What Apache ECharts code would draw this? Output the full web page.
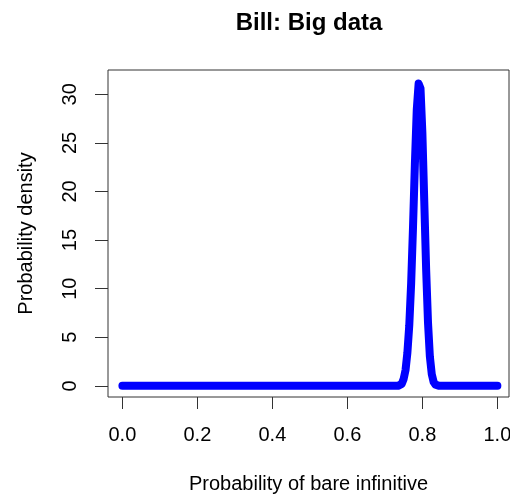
<!DOCTYPE html>
<html>
<head>
<meta charset="utf-8">
<script src="https://cdn.jsdelivr.net/npm/echarts@6/dist/echarts.min.js"></script>
<style>html,body{margin:0;padding:0;background:#fff;}#c{width:510px;height:494px;}</style>
</head>
<body>
<div id="c"></div>
<script>
const titleText = "Bill: Big data";
const xAxisName = "Probability of bare infinitive";
const yAxisName = "Probability density";
const xTicks = [0, 0.2, 0.4, 0.6, 0.8, 1.0];
const yTicks = [0, 5, 10, 15, 20, 25, 30];
const xValues = [0.00, 0.70, 0.735, 0.74, 0.745, 0.75, 0.755, 0.76, 0.765, 0.77, 0.775, 0.78, 0.785, 0.79, 0.7925, 0.795, 0.80, 0.805, 0.81, 0.815, 0.82, 0.825, 0.83, 0.835, 0.84, 0.845, 0.90, 1.00];
const densityValues = [0, 0, 0, 0.05, 0.2, 0.7, 1.6, 3.4, 6.2, 10.5, 16.3, 22.8, 28.4, 31.1, 31.2, 30.6, 26.0, 19.0, 12.0, 6.5, 3.0, 1.2, 0.4, 0.12, 0.03, 0, 0, 0];

const FONT = "'Liberation Sans', Arial, sans-serif";
const chart = echarts.init(document.getElementById('c'), null, {renderer: 'canvas'});
const pts = xValues.map((x, i) => [x, densityValues[i]]);
chart.setOption({
  animation: false,
  backgroundColor: '#ffffff',
  title: {
    text: titleText, left: 304, top: 6, textAlign: 'center',
    textStyle: {fontFamily: FONT, fontSize: 24, fontWeight: 'bold', color: '#000'}
  },
  grid: {left: 108, top: 70, width: 401, height: 327, show: true, borderColor: '#333', borderWidth: 1,
    backgroundColor: 'transparent', containLabel: false, outerBoundsMode: 'none'},
  xAxis: {
    type: 'value', min: -0.0384, max: 1.031,
    name: xAxisName, nameLocation: 'middle', nameGap: 77,
    nameTextStyle: {fontFamily: FONT, fontSize: 20, color: '#000'},
    axisLine: {show: false, onZero: false},
    splitLine: {show: false},
    axisTick: {show: true, customValues: xTicks, length: 12, inside: false, lineStyle: {color: '#333', width: 1}},
    axisLabel: {show: true, customValues: xTicks, margin: 28, fontFamily: FONT, fontSize: 20, color: '#000',
      formatter: v => Number(v).toFixed(1)}
  },
  yAxis: {
    type: 'value', min: -1.15, max: 32.5,
    name: yAxisName, nameLocation: 'middle', nameGap: 72, nameRotate: 90,
    nameTextStyle: {fontFamily: FONT, fontSize: 20, color: '#000'},
    axisLine: {show: false, onZero: false},
    splitLine: {show: false},
    axisTick: {show: true, customValues: yTicks, length: 13, lineStyle: {color: '#333', width: 1}},
    axisLabel: {show: true, customValues: yTicks, rotate: 90, margin: 28, fontFamily: FONT, fontSize: 20, color: '#000',
      formatter: v => String(Math.round(v))}
  },
  series: [{
    type: 'line', data: pts, showSymbol: false, symbol: 'none', smooth: false,
    lineStyle: {color: '#0000ff', width: 8, cap: 'round', join: 'round'},
    clip: false
  }]
});
</script>
</body>
</html>
